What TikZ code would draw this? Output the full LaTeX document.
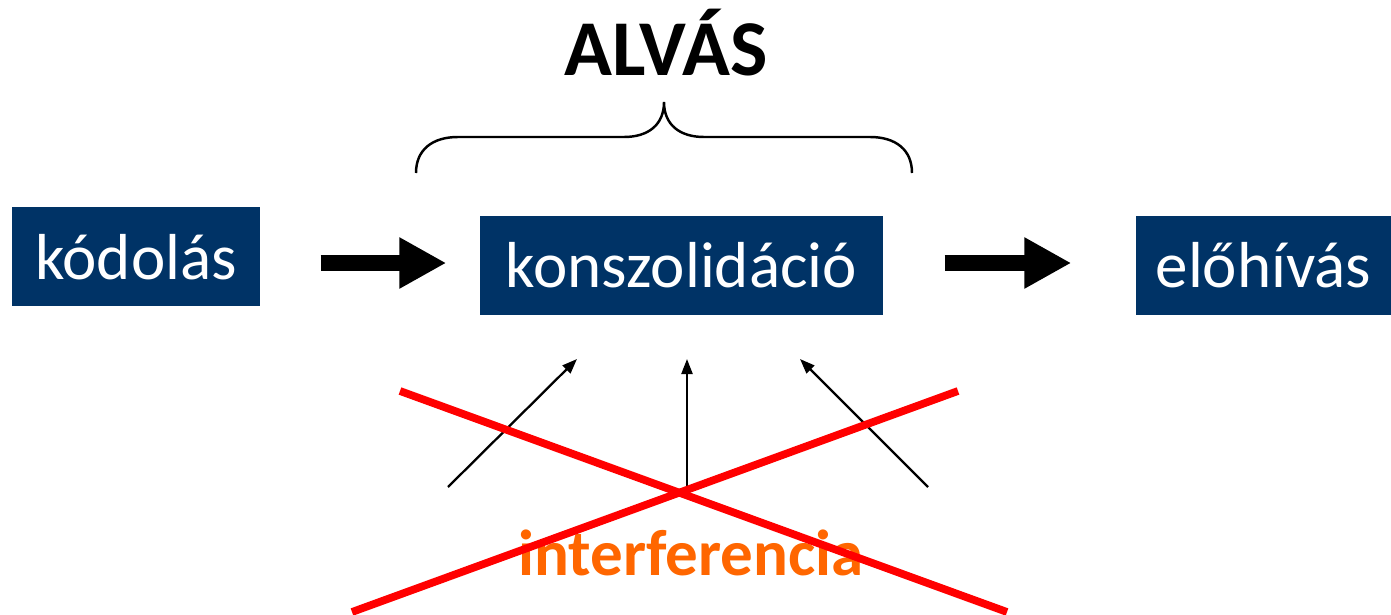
\documentclass[tikz,border=0pt]{standalone}
\usepackage{fontspec}
\setmainfont{Carlito}
\usetikzlibrary{arrows.meta}

\definecolor{sotetkek}{RGB}{0,51,102}
\definecolor{narancs}{RGB}{255,102,0}

\tikzset{
  blokk/.style={fill=sotetkek, text=white, inner sep=0pt, text height=0.72cm,
    text depth=0.27cm, font=\fontsize{18.5}{22}\selectfont},
  nagynyil/.style={line width=0.16cm, -{Triangle[length=0.47cm, width=0.48cm]}},
  vekony/.style={line width=0.65pt, -{Triangle[length=0.15cm, width=0.11cm]}},
  piros/.style={red, line width=2.2pt},
}

\begin{document}
\begin{tikzpicture}
\useasboundingbox (0,0) rectangle (13.91,-6.15);

% a harom blokk
\node [blokk, minimum width=2.48cm] (kod) at (1.36,-2.565) {kódolás};
\node [blokk, minimum width=4.03cm] (kon) at (6.815,-2.65) {konszolidáció};
\node [blokk, minimum width=2.55cm] (elo) at (12.635,-2.65) {előhívás};

% vastag nyilak
\draw [nagynyil, shorten <=0.6cm, shorten >=0.33cm] (kod.east |- 0,-2.63) -- (kon.west |- 0,-2.63);
\draw [nagynyil, shorten <=0.61cm, shorten >=0.64cm] (kon.east |- 0,-2.63) -- (elo.west |- 0,-2.63);

% ALVAS es a kapcsos zarojel
\node [anchor=base, font=\fontsize{22.5}{26}\selectfont\bfseries] (alvas) at (6.66,-0.75) {ALVÁS};
\draw [line width=0.7pt] (4.16,-1.73) .. controls (4.16,-1.50) and (4.32,-1.37) .. (4.58,-1.37)
  -- (6.24,-1.37) .. controls (6.48,-1.37) and (6.64,-1.25) .. (6.64,-1.02)
  .. controls (6.64,-1.25) and (6.80,-1.37) .. (7.04,-1.37)
  -- (8.70,-1.37) .. controls (8.96,-1.37) and (9.12,-1.50) .. (9.12,-1.73);

% vekony nyilak
\coordinate (a1) at (4.48,-4.87);
\coordinate (a2) at (6.87,-4.87);
\coordinate (a3) at (9.28,-4.87);
\coordinate (c1) at (5.77,-3.59);
\coordinate (c2) at (6.87,-3.59);
\coordinate (c3) at (8.00,-3.59);
\draw [vekony] (a1) -- (c1);
\draw [vekony] (a2) -- (c2);
\draw [vekony] (a3) -- (c3);

\node [anchor=base, text=narancs, font=\fontsize{18.5}{22}\selectfont\bfseries] (interf) at (6.91,-5.75) {interferencia};

% athuzas
\coordinate (p1) at (4.00,-3.91);
\coordinate (p2) at (10.07,-6.12);
\coordinate (p3) at (9.58,-3.91);
\coordinate (p4) at (3.52,-6.12);
\draw [piros] (p1) -- (p2);
\draw [piros] (p3) -- (p4);

\end{tikzpicture}
\end{document}
